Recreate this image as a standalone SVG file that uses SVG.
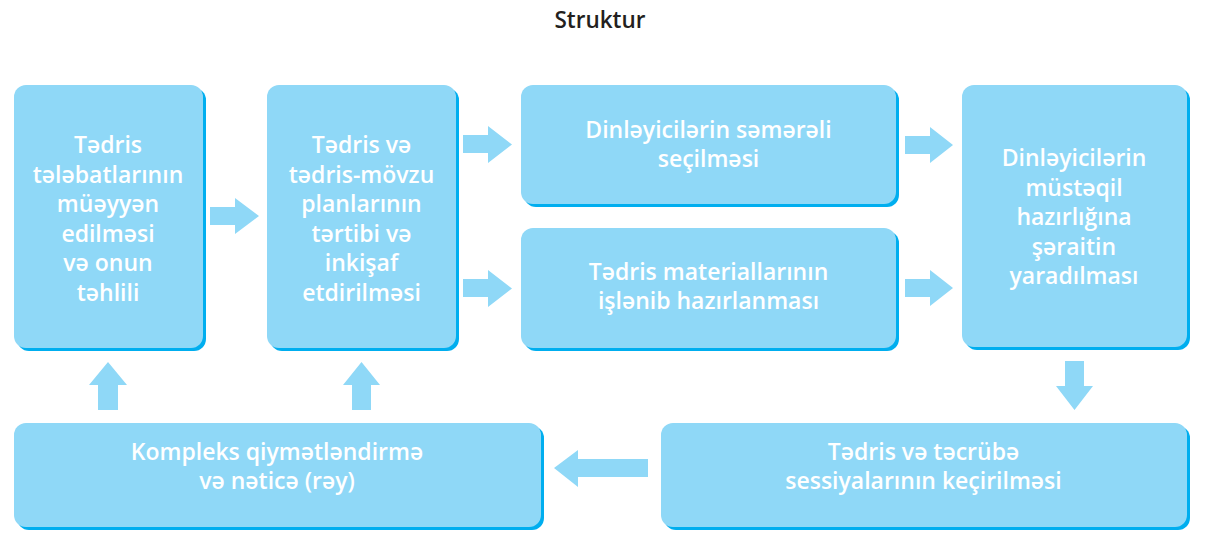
<svg xmlns="http://www.w3.org/2000/svg" width="1213" height="536" viewBox="0 0 1213 536">
<style>
.sh{fill:#00aeef}
.bx{fill:#8fd8f7}
.ar{fill:#8fd8f7}
.t{font-family:"Open Sans","Liberation Sans",sans-serif;font-weight:600;font-size:23px;fill:#ffffff;text-anchor:middle}
.title{font-family:"Open Sans","Liberation Sans",sans-serif;font-weight:600;font-size:22.5px;fill:#231f20;text-anchor:middle}
</style>
<rect width="1213" height="536" fill="#ffffff"/>
<text class="title" x="600" y="28">Struktur</text>
<g id="n1">
<rect class="sh" x="17" y="88" width="189" height="263" rx="12"/>
<rect class="bx" x="14" y="85" width="189" height="263" rx="12"/>
<text class="t"><tspan x="108" y="153">Tədris</tspan><tspan x="108" y="182.5">tələbatlarının</tspan><tspan x="108" y="212">müəyyən</tspan><tspan x="108" y="241.5">edilməsi</tspan><tspan x="108" y="271">və onun</tspan><tspan x="108" y="300.5">təhlili</tspan></text>
</g>
<g id="n2">
<rect class="sh" x="270" y="88" width="189" height="263" rx="12"/>
<rect class="bx" x="267" y="85" width="189" height="263" rx="12"/>
<text class="t"><tspan x="361.5" y="153">Tədris və</tspan><tspan x="361.5" y="182.5">tədris-mövzu</tspan><tspan x="361.5" y="212">planlarının</tspan><tspan x="361.5" y="241.5">tərtibi və</tspan><tspan x="361.5" y="271">inkişaf</tspan><tspan x="361.5" y="300.5">etdirilməsi</tspan></text>
</g>
<g id="n3">
<rect class="sh" x="524" y="88" width="375" height="119" rx="12"/>
<rect class="bx" x="521" y="85" width="375" height="119" rx="12"/>
<text class="t"><tspan x="708.5" y="138">Dinləyicilərin səmərəli</tspan><tspan x="708.5" y="167">seçilməsi</tspan></text>
</g>
<g id="n4">
<rect class="sh" x="524" y="231" width="375" height="120" rx="12"/>
<rect class="bx" x="521" y="228" width="375" height="120" rx="12"/>
<text class="t"><tspan x="708.5" y="280">Tədris materiallarının</tspan><tspan x="708.5" y="309">işlənib hazırlanması</tspan></text>
</g>
<g id="n5">
<rect class="sh" x="965" y="88" width="225" height="262" rx="12"/>
<rect class="bx" x="962" y="85" width="225" height="262" rx="12"/>
<text class="t"><tspan x="1074" y="166">Dinləyicilərin</tspan><tspan x="1074" y="195.5">müstəqil</tspan><tspan x="1074" y="225">hazırlığına</tspan><tspan x="1074" y="254.5">şəraitin</tspan><tspan x="1074" y="284">yaradılması</tspan></text>
</g>
<g id="n6">
<rect class="sh" x="664" y="426" width="526" height="104" rx="12"/>
<rect class="bx" x="661" y="423" width="526" height="104" rx="12"/>
<text class="t"><tspan x="923.5" y="460">Tədris və təcrübə</tspan><tspan x="923.5" y="489">sessiyalarının keçirilməsi</tspan></text>
</g>
<g id="n7">
<rect class="sh" x="17" y="426" width="527" height="104" rx="12"/>
<rect class="bx" x="14" y="423" width="527" height="104" rx="12"/>
<text class="t"><tspan x="277" y="460">Kompleks qiymətləndirmə</tspan><tspan x="277" y="489">və nəticə (rəy)</tspan></text>
</g>
<g id="connectors">
<polygon class="ar" points="210,207 235,207 235,198 259,216 235,234 235,225 210,225"/>
<polygon class="ar" points="463,135 488,135 488,126 512,144.5 488,163 488,153 463,153"/>
<polygon class="ar" points="463,279 488,279 488,270 512,288.5 488,307 488,297 463,297"/>
<polygon class="ar" points="905,136 930,136 930,127 953,145 930,163 930,154 905,154"/>
<polygon class="ar" points="905,279 930,279 930,270 953,288 930,306 930,297 905,297"/>
<polygon class="ar" points="1065,361 1084,361 1084,386 1093,386 1074.5,410 1056,386 1065,386"/>
<polygon class="ar" points="648,459 648,477 578,477 578,487 554,468 578,450 578,459"/>
<polygon class="ar" points="98,410 118,410 118,385 127,385 108,362 89,385 98,385"/>
<polygon class="ar" points="352,410 371,410 371,385 380,385 361.5,362 343,385 352,385"/>
</g>
</svg>
